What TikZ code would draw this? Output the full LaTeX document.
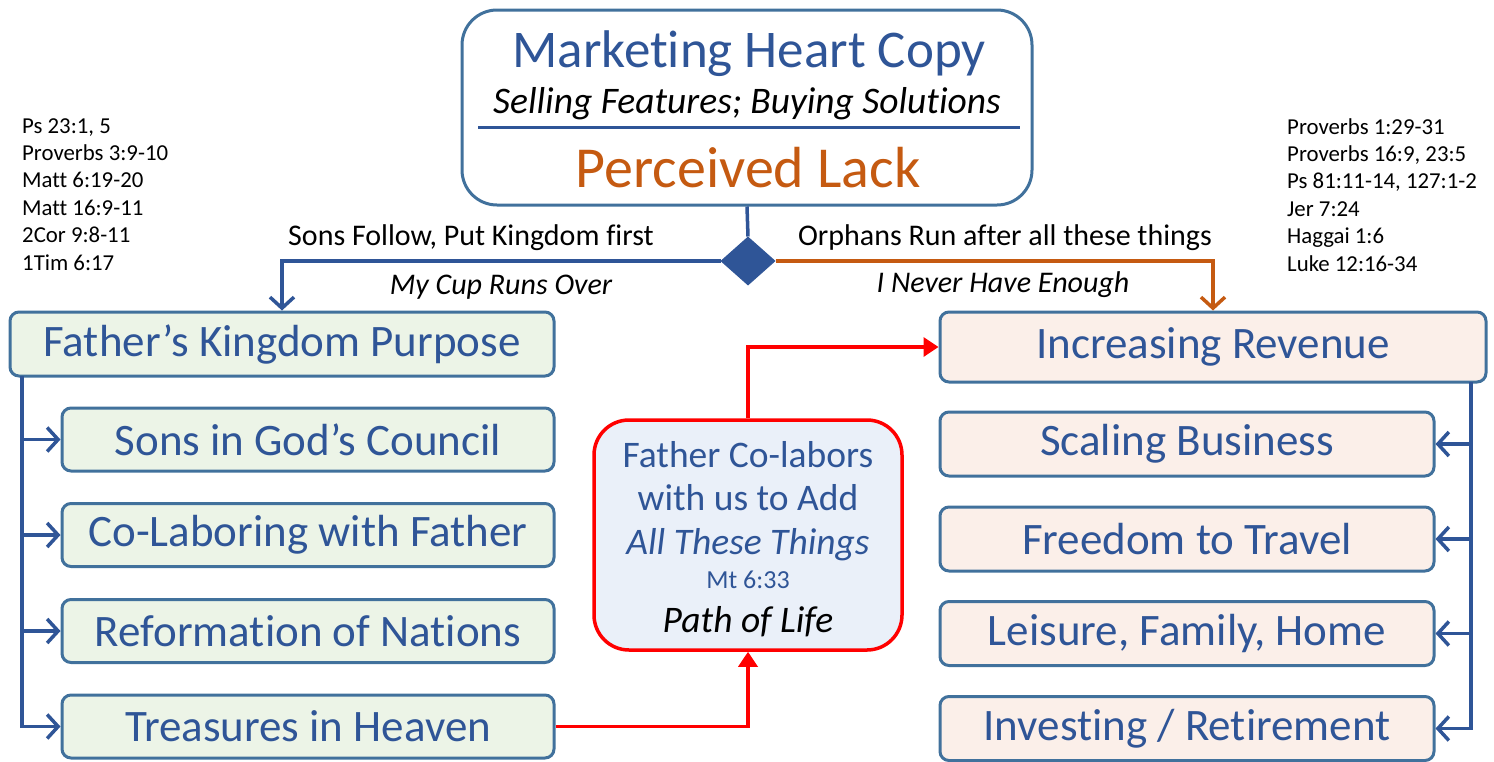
\documentclass[tikz,border=0pt]{standalone}
\usepackage{fontspec}
\setmainfont{Carlito}[Ligatures=CommonOff]
\usetikzlibrary{arrows.meta,shapes.geometric}
\definecolor{tblue}{HTML}{2F5597}
\definecolor{bord}{HTML}{41719C}
\definecolor{torange}{HTML}{C55A11}
\definecolor{gfill}{HTML}{ECF4E7}
\definecolor{pfill}{HTML}{FBEFE9}
\definecolor{cfill}{HTML}{EAF0F9}
\definecolor{tred}{HTML}{FF0000}
\tikzset{
  box/.style={draw=bord, line width=3pt, rounded corners=9pt, text=tblue,
    font=\fontsize{45}{52}\selectfont, inner sep=0pt},
  lbox/.style={box, fill=gfill},
  rbox/.style={box, fill=pfill},
  bline/.style={draw=tblue, line width=3.5pt},
  oline/.style={draw=torange, line width=3.5pt},
  rline/.style={draw=tred, line width=3.5pt},
  barb/.style={-{Straight Barb[length=11pt,width=24pt]}},
  tri/.style={-{Triangle[length=15pt,width=19pt]}},
  lbl/.style={font=\fontsize{30}{34}\selectfont, inner sep=0pt},
  ilbl/.style={font=\fontsize{30}{34}\selectfont\itshape, inner sep=0pt},
  refs/.style={font=\fontsize{22.8}{27.4}\selectfont, align=left, inner sep=0pt, anchor=north west},
  mtxt/.style={text=tblue, font=\fontsize{37.5}{42}\selectfont, inner sep=0pt},
}
\begin{document}
\begin{tikzpicture}[x=1pt,y=-1pt]
\useasboundingbox (0,0) rectangle (1494,761);
% top box
\node[draw=bord, line width=3pt, rounded corners=35pt, fill=white,
  minimum width=570pt, minimum height=195pt, inner sep=0pt] (top) at (747,107.5) {};
\node[text=tblue, font=\fontsize{53}{60}\selectfont, inner sep=0pt] (title) at (749,54) {Marketing Heart Copy};
\node[font=\fontsize{37.5}{42}\selectfont\itshape, inner sep=0pt] (sub) at (747,104) {Selling Features; Buying Solutions};
\coordinate (rl) at (478,127);
\coordinate (rr) at (1020,127);
\draw[draw=tblue, line width=3pt] (rl) -- (rr);
\node[text=torange, font=\fontsize{58}{64}\selectfont, inner sep=0pt] (lack) at (748,168) {Perceived Lack};
% diamond
\node[diamond, draw=tblue, fill=tblue, line width=1pt, minimum width=54pt, minimum height=48pt, inner sep=0pt] (dia) at (748,261) {};
% left boxes
\node[lbox, minimum width=544pt, minimum height=64pt] (fkp) at (282,344) {Father’s Kingdom Purpose};
\node[lbox, minimum width=492pt, minimum height=63pt] (l1) at (308,439.5) {Sons in God’s Council};
\node[lbox, minimum width=492pt, minimum height=63pt] (l2) at (308,535) {Co-Laboring with Father};
\node[lbox, minimum width=492pt, minimum height=63pt] (l3) at (308,631) {Reformation of Nations};
\node[lbox, minimum width=492pt, minimum height=63pt] (l4) at (308,726.5) {Treasures in Heaven};
% right boxes
\node[rbox, minimum width=546pt, minimum height=70pt] (ir) at (1213,347) {Increasing Revenue};
\node[rbox, minimum width=494pt, minimum height=64pt] (r1) at (1187,444) {Scaling Business};
\node[rbox, minimum width=494pt, minimum height=64pt] (r2) at (1187,539) {Freedom to Travel};
\node[rbox, minimum width=494pt, minimum height=64pt] (r3) at (1187,633.5) {Leisure, Family, Home};
\node[rbox, minimum width=494pt, minimum height=64pt] (r4) at (1187,728.5) {Investing / Retirement};
% center box
\node[draw=tred, line width=3.5pt, rounded corners=35pt, fill=cfill,
  minimum width=308pt, minimum height=230pt, inner sep=0pt] (mid) at (748,535) {};
\node[mtxt] (m1) at (748,455) {Father Co-labors};
\node[mtxt] (m2) at (748,498) {with us to Add};
\node[mtxt, font=\fontsize{37.5}{42}\selectfont\itshape] (m3) at (748,545) {All These Things};
\node[text=tblue, font=\fontsize{26}{30}\selectfont, inner sep=0pt] (m4) at (748,580) {Mt 6:33};
\node[font=\fontsize{37.5}{42}\selectfont\itshape, inner sep=0pt] (m5) at (748,622) {Path of Life};
% labels
\node[lbl] (sons) at (471,238) {Sons Follow, Put Kingdom first};
\node[lbl] (orph) at (1005,238) {Orphans Run after all these things};
\node[ilbl] (cup) at (501,287) {My Cup Runs Over};
\node[ilbl] (never) at (1003,285) {I Never Have Enough};
% references
\node[refs] (lrefs) at (22,118) {Ps 23:1, 5\\Proverbs 3:9-10\\Matt 6:19-20\\Matt 16:9-11\\2Cor 9:8-11\\1Tim 6:17};
\node[refs] (rrefs) at (1287,118) {Proverbs 1:29-31\\Proverbs 16:9, 23:5\\Ps 81:11-14, 127:1-2\\Jer 7:24\\Haggai 1:6\\Luke 12:16-34};
% connectors
\draw[bline] (top.south) -- (dia.north);
\draw[bline, barb] (dia.west) -| (fkp.north);
\draw[oline, barb] (dia.east) -| (ir.north);
\coordinate (ls) at (22,376);
\draw[bline, barb] (ls) |- (l4.west);
\draw[bline, barb] (ls |- l1.west) -- (l1.west);
\draw[bline, barb] (ls |- l2.west) -- (l2.west);
\draw[bline, barb] (ls |- l3.west) -- (l3.west);
\coordinate (rs) at (1471,382);
\draw[bline, barb] (rs) |- (r4.east);
\draw[bline, barb] (rs |- r1.east) -- (r1.east);
\draw[bline, barb] (rs |- r2.east) -- (r2.east);
\draw[bline, barb] (rs |- r3.east) -- (r3.east);
\draw[rline, tri] (l4.east) -| (mid.south);
\draw[rline, tri] (mid.north) |- (ir.west);
\end{tikzpicture}
\end{document}
